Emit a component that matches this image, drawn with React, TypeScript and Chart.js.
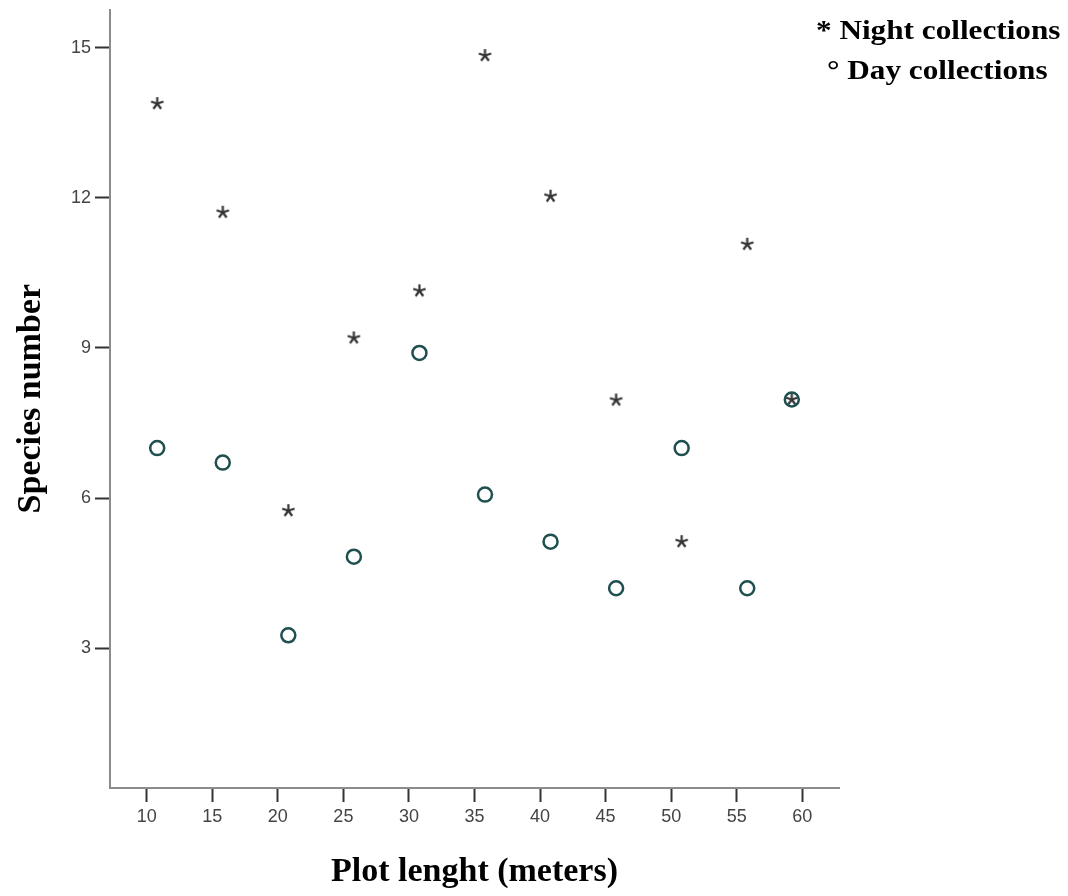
import React, { useEffect, useRef } from "react";
import { Chart, registerables } from "chart.js";

Chart.register(...registerables);

const plotLengths = [10.8, 15.8, 20.8, 25.8, 30.8, 35.8, 40.8, 45.8, 50.8, 55.8, 59.2];
const nightSpecies = [13.88, 11.71, 5.75, 9.2, 10.14, 14.84, 12.03, 7.96, 5.13, 11.07, 7.97];
const daySpecies = [7.0, 6.71, 3.26, 4.83, 8.9, 6.07, 5.13, 4.2, 7.0, 4.2, 7.97];
const xTickValues = [10, 15, 20, 25, 30, 35, 40, 45, 50, 55, 60];
const yTickValues = [3, 6, 9, 12, 15];

function makeStar(): HTMLCanvasElement {
  const c = document.createElement("canvas");
  c.width = 15;
  c.height = 15;
  const ctx = c.getContext("2d")!;
  ctx.strokeStyle = "#333333";
  ctx.lineWidth = 2.2;
  ctx.lineCap = "butt";
  const cx = 7.5, cy = 7.5, r = 6.5;
  for (let i = 0; i < 5; i++) {
    const a = -Math.PI / 2 + (i * 2 * Math.PI) / 5;
    ctx.beginPath();
    ctx.moveTo(cx, cy);
    ctx.lineTo(cx + r * Math.cos(a), cy + r * Math.sin(a));
    ctx.stroke();
  }
  return c;
}

export default function App() {
  const ref = useRef<HTMLCanvasElement>(null);
  useEffect(() => {
    if (!ref.current) return;
    const star = makeStar();
    const chart = new Chart(ref.current, {
      type: "scatter",
      data: {
        datasets: [
          {
            label: "Day collections",
            data: plotLengths.map((x, i) => ({ x, y: daySpecies[i] })),
            pointStyle: "circle",
            pointRadius: 7,
            borderColor: "#1f4f4f",
            backgroundColor: "rgba(255,255,255,0)",
            borderWidth: 2.5,
          },
          {
            label: "Night collections",
            data: plotLengths.map((x, i) => ({ x, y: nightSpecies[i] })),
            pointStyle: star as any,
            pointRadius: 7,
            borderColor: "#333333",
            backgroundColor: "#333333",
          },
        ],
      },
      options: {
        animation: false,
        responsive: true,
        maintainAspectRatio: false,
        layout: { padding: { left: 0, right: 229, top: 5, bottom: 0 } },
        plugins: { legend: { display: false }, tooltip: { enabled: false } },
        scales: {
          x: {
            type: "linear",
            min: 7.2,
            max: 62.8,
            afterBuildTicks: (s: any) => {
              s.ticks = xTickValues.map((v) => ({ value: v }));
            },
            afterFit: (s: any) => {
              s.height = 108;
              s.paddingLeft = 0;
              s.paddingRight = 0;
            },
            grid: {
              drawOnChartArea: false,
              drawTicks: true,
              tickLength: 14,
              tickColor: "#333333",
              tickWidth: 2,
            },
            border: { color: "#8c8c8c", width: 2 },
            ticks: {
              color: "#444444",
              font: { family: "Liberation Sans", size: 18 },
              padding: 4,
              autoSkip: false,
              maxRotation: 0,
            },
            title: {
              display: true,
              text: "Plot lenght (meters)",
              color: "#000000",
              font: { family: "Liberation Serif", size: 34, weight: "bold" },
              padding: { top: 0, bottom: 3 },
            },
          },
          y: {
            type: "linear",
            min: 0.21,
            max: 15.76,
            afterBuildTicks: (s: any) => {
              s.ticks = yTickValues.map((v) => ({ value: v }));
            },
            afterFit: (s: any) => {
              s.width = 110;
              s.paddingTop = 0;
              s.paddingBottom = 0;
            },
            grid: {
              drawOnChartArea: false,
              drawTicks: true,
              tickLength: 15,
              tickColor: "#333333",
              tickWidth: 2,
            },
            border: { color: "#8c8c8c", width: 2 },
            ticks: {
              color: "#444444",
              font: { family: "Liberation Sans", size: 18 },
              padding: 4,
            },
            title: {
              display: true,
              text: "Species number",
              color: "#000000",
              font: { family: "Liberation Serif", size: 34, weight: "bold" },
              padding: { top: 11, bottom: 0 },
            },
          },
        },
      },
    });
    return () => chart.destroy();
  }, []);

  const legendStyle: React.CSSProperties = {
    position: "absolute",
    fontFamily: "'Liberation Serif', serif",
    fontWeight: "bold",
    fontSize: 27,
    color: "#000",
    whiteSpace: "nowrap",
    lineHeight: "30px",
    transform: "scaleX(1.156)",
    transformOrigin: "left center",
  };

  return (
    <div style={{ position: "fixed", left: 0, top: 0, width: 1068, height: 896, background: "#fff" }}>
      <canvas ref={ref} />
      <div style={{ ...legendStyle, left: 816, top: 15 }}>* Night collections</div>
      <div style={{ ...legendStyle, left: 827, top: 55 }}>° Day collections</div>
    </div>
  );
}
